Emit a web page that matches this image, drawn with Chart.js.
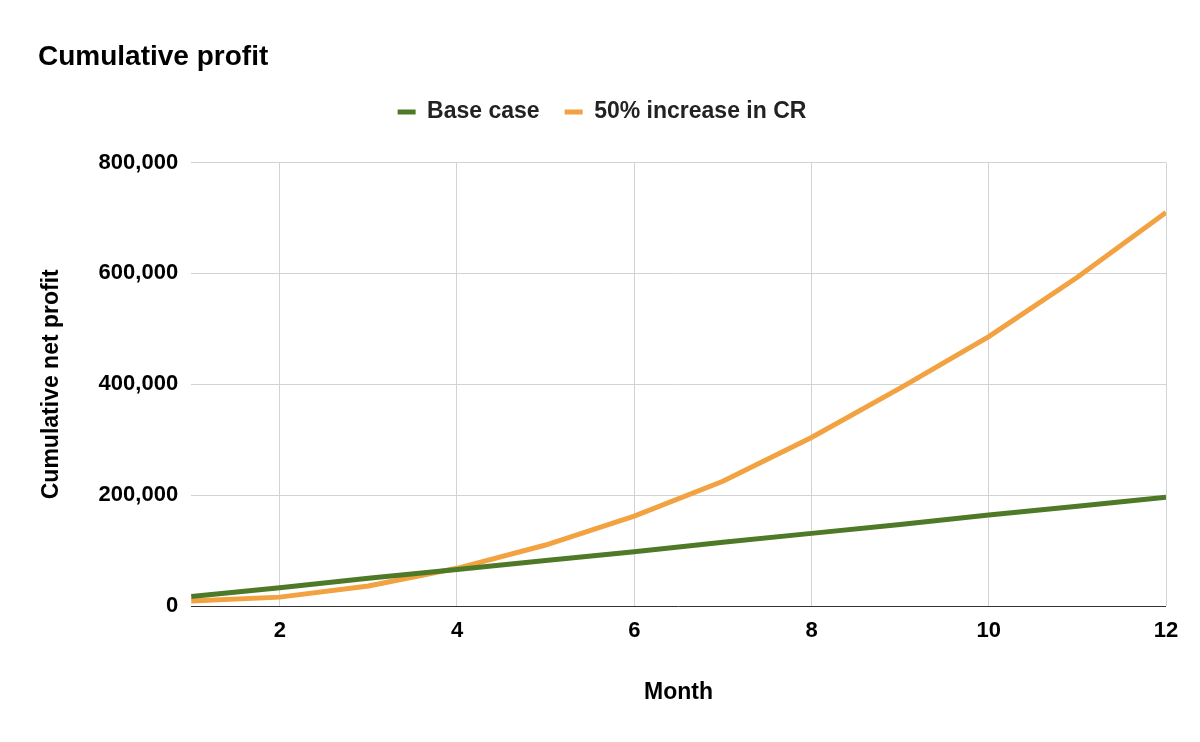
<!DOCTYPE html>
<html>
<head>
<meta charset="utf-8">
<script src="https://cdn.jsdelivr.net/npm/chart.js@4/dist/chart.umd.min.js"></script>
<style>
  html, body { margin: 0; padding: 0; background: #fff; }
  #wrap { width: 1200px; height: 742px; }
</style>
</head>
<body>
<div id="wrap"><canvas id="profitChart" width="1200" height="742"></canvas></div>
<script>
const months = [1, 2, 3, 4, 5, 6, 7, 8, 9, 10, 11, 12];
const baseCase = [17000, 33000, 50000, 66000, 82000, 98000, 115000, 131000, 147000, 164000, 180000, 196000];
const crIncrease = [9000, 16000, 36000, 68000, 110000, 162000, 225000, 304000, 393000, 486000, 593000, 710000];
const xTicks = [2, 4, 6, 8, 10, 12];
const yTicks = [0, 200000, 400000, 600000, 800000];

const FONT = "'Liberation Sans', Arial, sans-serif";

// extra gap under the legend, like the sheet chart
const legendGap = {
  id: 'legendGap',
  beforeInit(chart) {
    const fit = chart.legend.fit;
    chart.legend.fit = function () {
      fit.call(this);
      this.height += 29;
    };
  }
};

const ctx = document.getElementById('profitChart').getContext('2d');

const profitChart = new Chart(ctx, {
  type: 'line',
  data: {
    datasets: [{
      label: 'Base case',
      data: months.map((m, i) => ({ x: m, y: baseCase[i] })),
      borderColor: '#4e7a27',
      backgroundColor: '#4e7a27',
      borderWidth: 5,
      pointRadius: 0,
      tension: 0
    }, {
      label: '50% increase in CR',
      data: months.map((m, i) => ({ x: m, y: crIncrease[i] })),
      borderColor: '#f2a241',
      backgroundColor: '#f2a241',
      borderWidth: 5,
      pointRadius: 0,
      tension: 0
    }]
  },
  plugins: [legendGap],
  options: {
    responsive: false,
    animation: false,
    layout: { padding: { left: 38, right: 34, top: 30, bottom: 36 } },
    plugins: {
      title: {
        display: true,
        text: 'Cumulative profit',
        align: 'start',
        color: '#000',
        font: { family: FONT, size: 28, weight: 'bold', lineHeight: 1 },
        padding: { top: 13, bottom: 4.5 }
      },
      legend: {
        labels: {
          color: '#222',
          font: { family: FONT, size: 23, weight: 'bold' },
          boxWidth: 18,
          boxHeight: 5,
          padding: 25,
          generateLabels: chart => Chart.defaults.plugins.legend.labels.generateLabels(chart)
            .map(item => ({ ...item, lineWidth: 0 }))
        }
      },
      tooltip: { enabled: false }
    },
    scales: {
      x: {
        type: 'linear',
        min: 1,
        max: 12,
        afterBuildTicks: axis => { axis.ticks = xTicks.map(v => ({ value: v })); },
        ticks: {
          color: '#000',
          font: { family: FONT, size: 22, weight: 'bold' },
          padding: 12,
          maxRotation: 0
        },
        grid: { color: '#d3d3d3', drawTicks: false },
        border: { display: false },
        title: {
          display: true,
          text: 'Month',
          color: '#000',
          font: { family: FONT, size: 23, weight: 'bold' },
          padding: { top: 22, bottom: 0 }
        }
      },
      y: {
        min: 0,
        max: 800000,
        afterBuildTicks: axis => { axis.ticks = yTicks.map(v => ({ value: v })); },
        ticks: {
          color: '#000',
          font: { family: FONT, size: 22, weight: 'bold' },
          padding: 13,
          callback: v => v.toLocaleString('en-US')
        },
        grid: {
          color: c => c.tick && c.tick.value === 0 ? '#333' : '#d3d3d3',
          drawTicks: false
        },
        border: { display: false },
        title: {
          display: true,
          text: 'Cumulative net profit',
          color: '#000',
          font: { family: FONT, size: 23, weight: 'bold' },
          padding: { top: 0, bottom: 20 }
        }
      }
    }
  }
});
</script>
</body>
</html>
